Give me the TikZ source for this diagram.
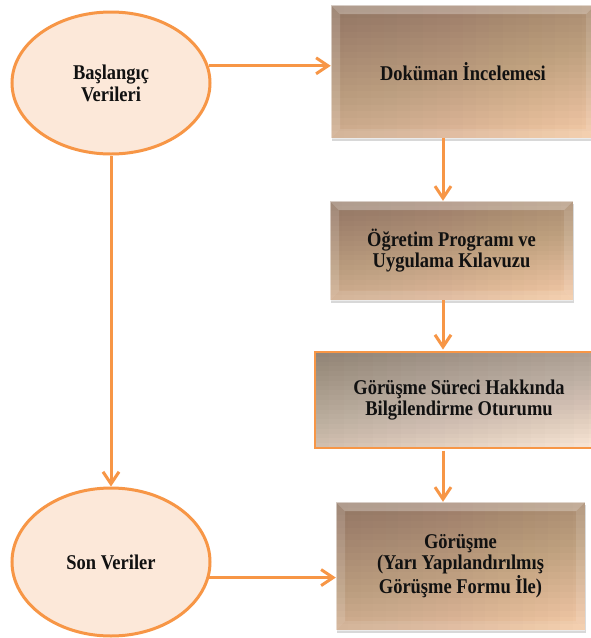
\documentclass[tikz,border=0pt]{standalone}
\usepackage{fontspec}
\setmainfont{Liberation Serif}[FakeStretch=0.88]
\usetikzlibrary{arrows.meta,shapes.geometric,shadows,calc}
\definecolor{org}{HTML}{F79646}
\definecolor{ellfill}{HTML}{FCE8D9}
\definecolor{bbase}{HTML}{F2CAA6}
\definecolor{bover}{HTML}{967860}
\definecolor{gbase}{HTML}{F8E5D4}
\definecolor{gover}{HTML}{8C7D73}
\definecolor{txt}{HTML}{111111}
\newcommand\mygrad[3]{%
  \foreach \j in {1,...,19}{%
    \fill[#1,opacity=#2] (path picture bounding box.south west) rectangle
      ($(path picture bounding box.north west)!\j/20!(path picture bounding box.north east)$);}%
  \foreach \j in {1,...,19}{%
    \fill[black,opacity=#3] (path picture bounding box.north west) rectangle
      ($(path picture bounding box.north east)!\j/20!(path picture bounding box.south east)$);}}
\begin{document}
\begin{tikzpicture}[x=1pt,y=1pt,
  lbl/.style={font=\fontsize{21}{21.8}\selectfont\bfseries, text=txt, align=center},
  ell/.style={ellipse, draw=org, line width=3pt, fill=ellfill, lbl, inner sep=0pt},
  arr/.style={draw=org, line width=3pt, -{Straight Barb[length=12pt,width=16pt,line width=3pt]}},
  bevbox/.style={rectangle, lbl, inner sep=0pt, fill=bbase,
    drop shadow={shadow xshift=1pt, shadow yshift=-3pt, opacity=.25, fill=black!60},
    path picture={
      \mygrad{bover}{0.0164}{0.0147}
      \fill[white,opacity=.28] (path picture bounding box.north west) -- (path picture bounding box.north east)
        -- ([xshift=-9pt,yshift=-9pt]path picture bounding box.north east) -- ([xshift=9pt,yshift=-9pt]path picture bounding box.north west) -- cycle;
      \fill[white,opacity=.14] (path picture bounding box.north west) -- ([xshift=9pt,yshift=-9pt]path picture bounding box.north west)
        -- ([xshift=9pt,yshift=9pt]path picture bounding box.south west) -- (path picture bounding box.south west) -- cycle;
      \fill[white,opacity=.12] (path picture bounding box.north east) -- ([xshift=-9pt,yshift=-9pt]path picture bounding box.north east)
        -- ([xshift=-9pt,yshift=9pt]path picture bounding box.south east) -- (path picture bounding box.south east) -- cycle;
      \fill[white,opacity=.10] (path picture bounding box.south west) -- ([xshift=9pt,yshift=9pt]path picture bounding box.south west)
        -- ([xshift=-9pt,yshift=9pt]path picture bounding box.south east) -- (path picture bounding box.south east) -- cycle;
      \draw[white,opacity=.5,line width=1pt] (path picture bounding box.north west) rectangle (path picture bounding box.south east);
    }},
  flatbox/.style={rectangle, lbl, inner sep=0pt, draw=org, line width=2.5pt, fill=gbase,
    path picture={\mygrad{gover}{0.0186}{0.0176}}}
]
\useasboundingbox (0,0) rectangle (591,-638);
\fill[white] (0,0) rectangle (591,-638);

\node[ell, minimum width=198pt, minimum height=142pt] (e1) at (111,-83) {Başlangıç\\Verileri};
\node[ell, minimum width=198pt, minimum height=148pt] (e2) at (111,-562) {Son Veriler};

\node[bevbox, minimum width=264pt, minimum height=133pt] (b1) at (463,-71.5) {Doküman İncelemesi};
\node[bevbox, minimum width=243pt, minimum height=99pt] (b2) at (451.5,-250.5) {Öğretim Programı ve\\Uygulama Kılavuzu};
\node[flatbox, minimum width=288pt, minimum height=96pt] (b3) at (459,-400) {Görüşme Süreci Hakkında\\Bilgilendirme Oturumu};
\node[bevbox, minimum width=249pt, minimum height=128pt] (b4) at (460.5,-566) {Görüşme\\(Yarı Yapılandırılmış\\Görüşme Formu İle)};

\coordinate (col) at (443,0);

\draw[arr] (e1.10.6) -- (e1.10.6 -| b1.west);
\draw[arr] (e1.south) -- (e2.north);
\draw[arr] (b1.south -| col) -- (b2.north -| col);
\draw[arr] (b2.south -| col) -- ([yshift=1.25pt]b3.north -| col);
\draw[arr] ([yshift=-1.25pt]b3.south -| col) -- (b4.north -| col);
\draw[arr] (e2.-9.4) -- (e2.-9.4 -| b4.west);
\end{tikzpicture}
\end{document}
